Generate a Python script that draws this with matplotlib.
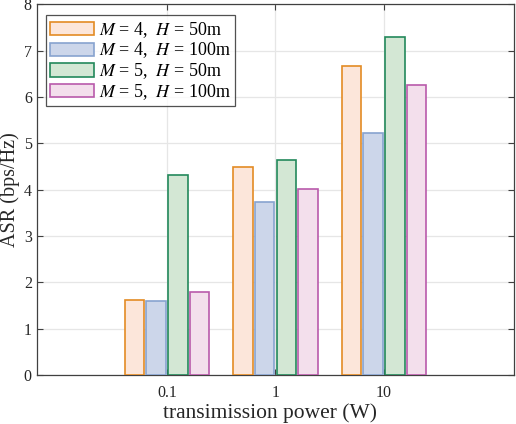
import matplotlib
matplotlib.use("Agg")
import matplotlib.pyplot as plt
import numpy as np

# data
powers = ["0.1", "1", "10"]
series_labels = [r"$M$ = 4,  $H$ = 50m", r"$M$ = 4,  $H$ = 100m",
                 r"$M$ = 5,  $H$ = 50m", r"$M$ = 5,  $H$ = 100m"]
asr_m4_h50 = [1.62, 4.48, 6.66]
asr_m4_h100 = [1.60, 3.73, 5.23]
asr_m5_h50 = [4.32, 4.65, 7.30]
asr_m5_h100 = [1.79, 4.01, 6.26]

face_colors = ["#fce6da", "#ccd6ea", "#d3e7d4", "#f3dfec"]
edge_colors = ["#e38b24", "#87a3cf", "#23895b", "#b95aab"]

plt.rcParams["font.family"] = ["Liberation Serif", "DejaVu Serif"]
plt.rcParams["mathtext.fontset"] = "stix"

fig = plt.figure(figsize=(5.16, 4.24), dpi=100)
ax = fig.add_axes([0.0711, 0.1156, 0.9256, 0.8743])

x = np.arange(1, len(powers) + 1)
all_series = [asr_m4_h50, asr_m4_h100, asr_m5_h50, asr_m5_h100]
for i, vals in enumerate(all_series):
    ax.bar(x + (i - 1.5) * 0.2, vals, width=0.18, color=face_colors[i],
           edgecolor=edge_colors[i], linewidth=1.2, label=series_labels[i], zorder=3)

ax.set_xlim(-0.2, 4.2)
ax.set_ylim(0, 8)
ax.set_xticks(x)
ax.set_xticklabels(powers)
ax.set_yticks(range(0, 9))
ax.grid(True, color="#e6e6e6", linewidth=0.9, zorder=0)
ax.tick_params(direction="in", top=True, right=True, length=4, labelsize=11.5,
               color="#404040", labelcolor="#262626")
ax.tick_params(axis="y", pad=3.5)
ax.tick_params(axis="x", pad=7)
for side in ax.spines.values():
    side.set_color("#404040")
    side.set_linewidth(0.9)

ax.set_xlabel("transimission power (W)", fontsize=15.5, color="#262626")
ax.set_ylabel("ASR (bps/Hz)", fontsize=14.5, color="#262626")
ax.xaxis.set_label_coords(0.488, -0.077)
ax.yaxis.set_label_coords(-0.034, 0.5)

leg = ax.legend(loc="upper left", bbox_to_anchor=(0.019, 0.97), fontsize=13,
                frameon=True, fancybox=False, edgecolor="#262626",
                handlelength=2.4, handleheight=0.75, handletextpad=0.3,
                borderpad=0.25, labelspacing=0.05, borderaxespad=0)
leg.get_frame().set_linewidth(0.9)

fig.savefig("out.png", dpi=100)
